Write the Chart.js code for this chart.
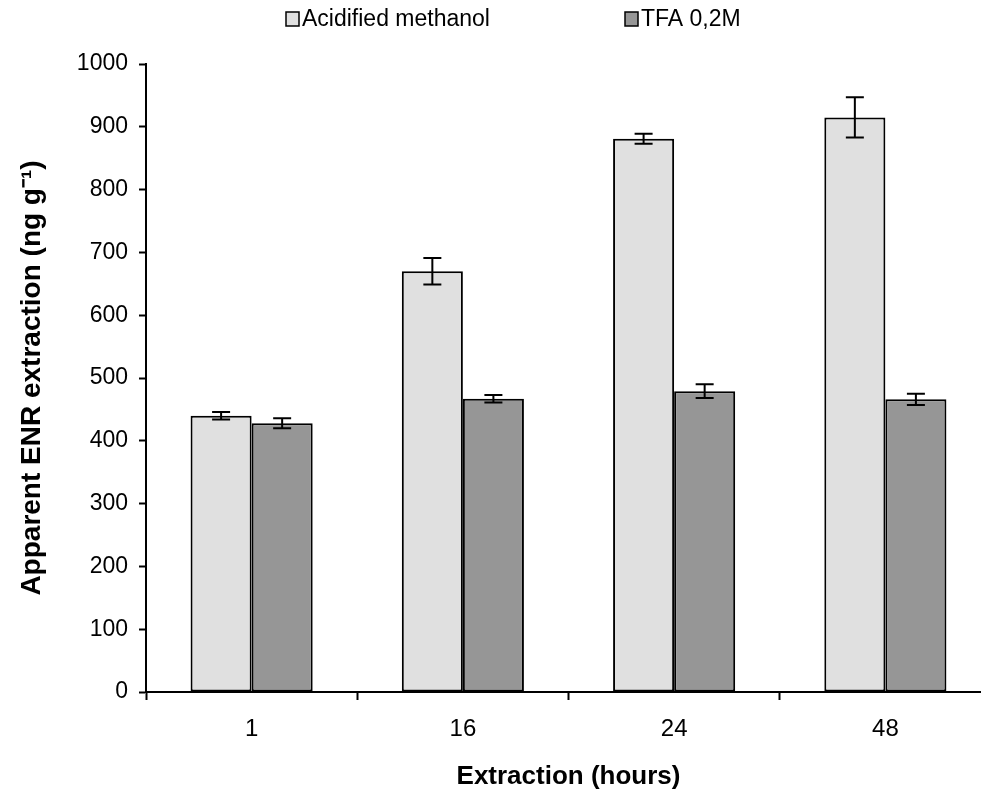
<!DOCTYPE html>
<html>
<head>
<meta charset="utf-8">
<script src="https://cdn.jsdelivr.net/npm/chart.js@4/dist/chart.umd.min.js"></script>
<style>
body { margin: 0; background: #fff; overflow: hidden; }
#wrap { width: 993px; height: 792px; }
</style>
</head>
<body>
<div id="wrap"><canvas id="chart"></canvas></div>
<script>
var hours = ['1', '16', '24', '48'];
var methanol = [440, 670, 881, 915];
var methanolErr = [6, 21, 8, 32];
var tfa = [428, 467, 479, 466];
var tfaErr = [8, 6, 11, 9];
var yTicks = [0, 100, 200, 300, 400, 500, 600, 700, 800, 900, 1000];

var errors = [methanolErr, tfaErr];

// error bars drawn over the bars
var errorBars = {
    id: 'errorBars',
    afterDatasetsDraw: function(chart) {
        var ctx = chart.ctx;
        var y = chart.scales.y;
        ctx.save();
        ctx.strokeStyle = '#000';
        ctx.lineWidth = 2;
        chart.data.datasets.forEach(function(ds, i) {
            var meta = chart.getDatasetMeta(i);
            meta.data.forEach(function(bar, j) {
                var v = ds.data[j];
                var e = errors[i][j];
                var top = y.getPixelForValue(v + e);
                var bot = y.getPixelForValue(v - e);
                ctx.beginPath();
                ctx.moveTo(bar.x, top);
                ctx.lineTo(bar.x, bot);
                ctx.moveTo(bar.x - 9, top);
                ctx.lineTo(bar.x + 9, top);
                ctx.moveTo(bar.x - 9, bot);
                ctx.lineTo(bar.x + 9, bot);
                ctx.stroke();
            });
        });
        ctx.restore();
    }
};

// legend row at the top, spaced like the original figure
var topLegend = {
    id: 'topLegend',
    afterDraw: function(chart) {
        var ctx = chart.ctx;
        var starts = [286, 625];
        ctx.save();
        ctx.font = '23px "Liberation Sans", Arial, sans-serif';
        ctx.textBaseline = 'middle';
        ctx.textAlign = 'left';
        chart.data.datasets.forEach(function(ds, i) {
            var x = starts[i];
            ctx.fillStyle = ds.backgroundColor;
            ctx.fillRect(x, 12, 13, 14);
            ctx.strokeStyle = '#000';
            ctx.lineWidth = 1.5;
            ctx.strokeRect(x, 12, 13, 14);
            ctx.fillStyle = '#000';
            ctx.fillText(ds.label, x + 16, 20);
        });
        ctx.restore();
    }
};

var ctx = document.getElementById('chart').getContext('2d');
new Chart(ctx, {
    type: 'bar',
    data: {
        labels: hours,
        datasets: [{
            label: 'Acidified methanol',
            data: methanol,
            backgroundColor: '#e0e0e0',
            borderColor: '#000',
            borderWidth: 2,
            borderSkipped: false,
            categoryPercentage: 0.578,
            barPercentage: 1.0
        }, {
            label: 'TFA 0,2M',
            data: tfa,
            backgroundColor: '#969696',
            borderColor: '#000',
            borderWidth: 2,
            borderSkipped: false,
            categoryPercentage: 0.578,
            barPercentage: 1.0
        }]
    },
    options: {
        responsive: true,
        maintainAspectRatio: false,
        animation: false,
        layout: { padding: { top: 64, right: 2, bottom: 0, left: 0 } },
        plugins: {
            tooltip: { enabled: false },
            legend: { display: false }
        },
        scales: {
            x: {
                offset: true,
                border: { color: '#000', width: 2 },
                grid: { offset: true, drawOnChartArea: false, drawTicks: true, tickLength: 8, tickColor: '#000', tickWidth: 2 },
                ticks: { color: '#000', padding: 15, font: { family: 'Liberation Sans, Arial, sans-serif', size: 24 } },
                title: {
                    display: true,
                    text: 'Extraction (hours)',
                    color: '#000',
                    font: { family: 'Liberation Sans, Arial, sans-serif', size: 26, weight: 'bold' },
                    padding: { top: 0, bottom: 0 }
                },
                afterFit: function(scale) { scale.height = 100; }
            },
            y: {
                min: 0,
                max: 1000,
                border: { color: '#000', width: 2 },
                grid: { drawOnChartArea: false, drawTicks: true, tickLength: 7, tickColor: '#000', tickWidth: 2 },
                afterBuildTicks: function(scale) {
                    scale.ticks = yTicks.map(function(v) { return { value: v }; });
                },
                ticks: {
                    color: '#000',
                    padding: 11,
                    font: { family: 'Liberation Sans, Arial, sans-serif', size: 23 },
                    callback: function(v) { return String(v); }
                },
                title: {
                    display: true,
                    text: 'Apparent ENR extraction (ng g⁻¹)',
                    color: '#000',
                    font: { family: 'Liberation Sans, Arial, sans-serif', size: 28, weight: 'bold' },
                    padding: { top: 15, bottom: 0 }
                },
                afterFit: function(scale) { scale.width = 146; }
            }
        }
    },
    plugins: [errorBars, topLegend]
});
</script>
</body>
</html>
